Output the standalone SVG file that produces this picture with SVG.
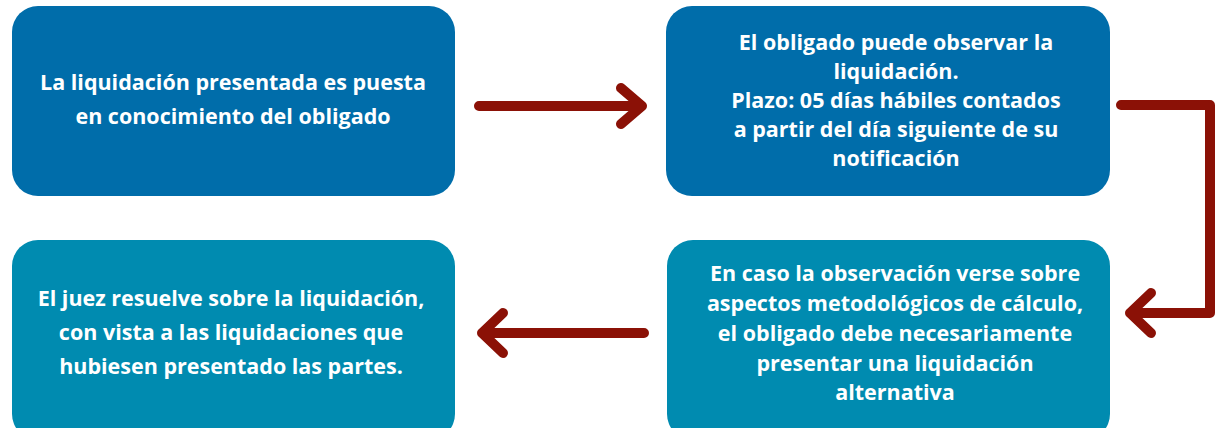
<svg xmlns="http://www.w3.org/2000/svg" width="1216" height="428" viewBox="0 0 1216 428">
<style>
.b1{fill:#006DAA}
.b2{fill:#008BB0}
.t{fill:#fff;font-family:"Open Sans","Noto Sans",sans-serif;font-weight:700;font-size:21.5px;text-anchor:middle}
.c{fill:none;stroke:#8B1106;stroke-width:10;stroke-linecap:round;stroke-linejoin:round}
</style>
<rect width="1216" height="428" fill="#fff"/>
<g id="n1"><rect class="b1" x="12" y="6" width="443" height="190" rx="26"/>
<text class="t"><tspan x="233" y="90">La liquidación presentada es puesta</tspan><tspan x="233" y="124">en conocimiento del obligado</tspan></text></g>
<g id="n2"><rect class="b1" x="666" y="6" width="444" height="190" rx="26"/>
<text class="t"><tspan x="896" y="50">El obligado puede observar la</tspan><tspan x="896" y="79">liquidación.</tspan><tspan x="896" y="108">Plazo: 05 días hábiles contados</tspan><tspan x="896" y="137">a partir del día siguiente de su</tspan><tspan x="896" y="166">notificación</tspan></text></g>
<g id="n3"><rect class="b2" x="667" y="240" width="443" height="200" rx="26"/>
<text class="t"><tspan x="895" y="281">En caso la observación verse sobre</tspan><tspan x="895" y="311">aspectos metodológicos de cálculo,</tspan><tspan x="895" y="341">el obligado debe necesariamente</tspan><tspan x="895" y="371">presentar una liquidación</tspan><tspan x="895" y="400">alternativa</tspan></text></g>
<g id="n4"><rect class="b2" x="12" y="240" width="443" height="200" rx="26"/>
<text class="t"><tspan x="231" y="306">El juez resuelve sobre la liquidación,</tspan><tspan x="231" y="340">con vista a las liquidaciones que</tspan><tspan x="231" y="374">hubiesen presentado las partes.</tspan></text></g>
<g id="connectors">
<path class="c" d="M479 106H642M621 88L642 106L621 124"/>
<path class="c" d="M1121 105H1210V313H1130M1151 293L1130 313L1151 333"/>
<path class="c" d="M644 333H482M503 313L482 333L503 353"/>
</g>
</svg>
